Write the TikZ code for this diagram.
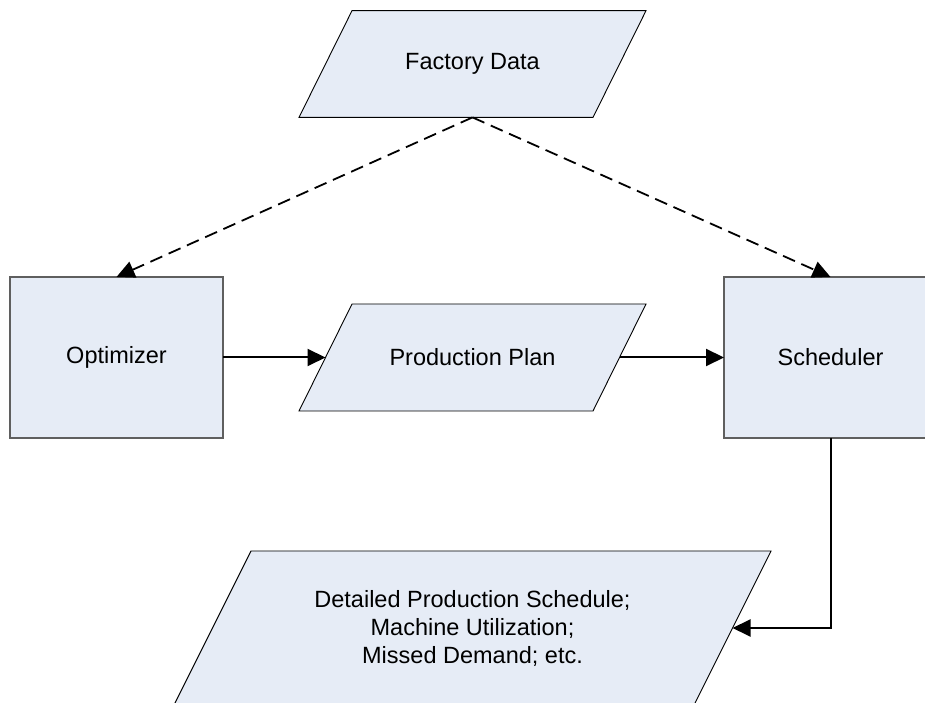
\documentclass[tikz,border=0pt]{standalone}
\usepackage{fontspec}
\setmainfont{Liberation Sans}
\usetikzlibrary{arrows.meta,calc}
\definecolor{boxfill}{RGB}{230,236,246}
\definecolor{boxline}{RGB}{95,95,95}
\tikzset{
  x=1pt, y=1pt,
  txt/.style={font=\fontsize{23.5}{28}\selectfont, text=black, align=center, inner sep=0pt},
  procbox/.style={txt, draw=boxline, line width=1.4pt, fill=boxfill, rectangle,
    minimum width=213pt, minimum height=161pt, outer sep=0pt},
  datashape/.style={draw=black, line width=0.9pt, fill=boxfill, line join=miter},
  flow/.style={line width=2pt, -{Triangle[length=18pt,width=17pt]}},
  dflow/.style={line width=1.8pt, dash pattern=on 13pt off 7pt, -{Triangle[length=18pt,width=17pt]}}
}
\begin{document}
\begin{tikzpicture}
\clip (0,0) rectangle (925,703);
\fill[white] (0,0) rectangle (925,703);
% Factory Data parallelogram
\coordinate (fd1) at (299,585.6);
\coordinate (fd2) at (593,585.6);
\coordinate (fd3) at (646,692.3);
\coordinate (fd4) at (352,692.3);
\path[datashape] (fd1) -- (fd2) -- (fd3) -- (fd4) -- cycle;
\node[txt] (fd) at (472.5,639) {Factory Data};
% Production Plan parallelogram
\coordinate (pp1) at (299,292);
\coordinate (pp2) at (593,292);
\coordinate (pp3) at (646,399);
\coordinate (pp4) at (352,399);
\path[datashape] (pp1) -- (pp2) -- (pp3) -- (pp4) -- cycle;
\node[txt] (pp) at (472.5,345.5) {Production Plan};
% Output parallelogram
\coordinate (ou1) at (174,-2);
\coordinate (ou2) at (694,-2);
\coordinate (ou3) at (771,152);
\coordinate (ou4) at (251,152);
\path[datashape] (ou1) -- (ou2) -- (ou3) -- (ou4) -- cycle;
\node[txt] (out) at (472.5,75) {Detailed Production Schedule;\\Machine Utilization;\\Missed Demand; etc.};
% Process boxes
\node[procbox] (opt) at (116.5,345.5) {Optimizer};
\node[procbox] (sch) at (830.5,345.5) {Scheduler};
% connector end points on slanted sides
\coordinate (fdb) at (472.5,585.6);
\coordinate (ppL) at ($(pp1)!0.5!(pp4)$);
\coordinate (ppR) at ($(pp2)!0.5!(pp3)$);
\coordinate (ouR) at ($(ou2)!0.5!(ou3)$);
% connectors
\draw[dflow] (fdb) -- (opt.north);
\draw[dflow] (fdb) -- (sch.north);
\draw[flow] (opt.east) -- (ppL);
\draw[flow] (ppR) -- (sch.west);
\draw[flow] (sch.south) |- (ouR);
\end{tikzpicture}
\end{document}
